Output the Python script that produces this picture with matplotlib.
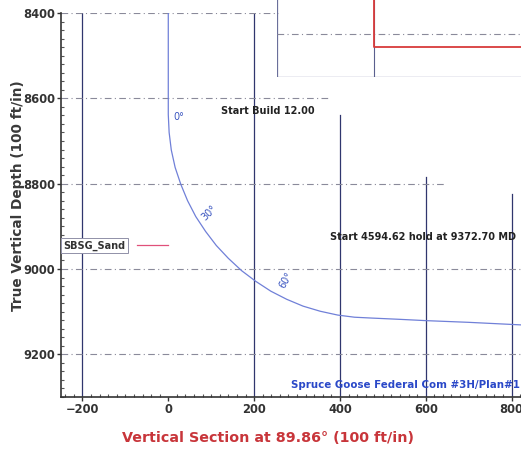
import numpy as np
import matplotlib
matplotlib.use("Agg")
import matplotlib.pyplot as plt
from matplotlib.ticker import MultipleLocator

# well path (vertical section ft, TVD ft)
vs = [0, 0, 2, 7, 16, 29, 45, 64, 87, 112, 140, 171, 204, 239, 276,
      314, 354, 395, 434, 474, 540, 600, 700, 822]
tvd = [8400, 8638, 8680, 8721, 8762, 8801, 8840, 8877, 8912, 8945, 8975,
       9004, 9029, 9052, 9071, 9087, 9099, 9108, 9113, 9115, 9118, 9121,
       9125, 9131]

# inclination labels
inc_text = ["0°", "30°", "60°"]
inc_vs = [25, 95, 275]
inc_tvd = [8644, 8868, 9025]
inc_rot = [0, 45, 60]

# formation top
form_name = "SBSG_Sand"
form_vs = [-72, 0]
form_tvd = [8943, 8943]

# grid: vertical lines (x, top tvd), horizontal lines (tvd, right vs)
vgrid_x = [-200, 200, 400, 600, 800]
vgrid_top = [8400, 8400, 8640, 8785, 8825]
hgrid_y = [8400, 8600, 8800, 9000, 9200]
hgrid_right = [255, 378, 645, 822, 822]

xticks = [-200, 0, 200, 400, 600, 800]
yticks = [8400, 8600, 8800, 9000, 9200]

# inset (plan view corner) in its own units
inset_vx = [0, 97, 299, 399, 501]
inset_hy = [34]
inset_red_x = [97, 97, 600]
inset_red_y = [-10, 47, 47]

fig = plt.figure(figsize=(5.21, 4.51), dpi=100)
ax = fig.add_axes([61/521, 54/451, 460/521, 384/451])

navy = "#30366e"
for x, top in zip(vgrid_x, vgrid_top):
    ax.plot([x, x], [top, 9300], color=navy, lw=0.9, zorder=1)
for y, right in zip(hgrid_y, hgrid_right):
    ax.plot([-250, right], [y, y], color="#8a8a9a", lw=0.8,
            dashes=(6, 3, 1, 3), zorder=1)

ax.plot(vs, tvd, color="#7080d8", lw=0.9, zorder=3)
for t, x, y, r in zip(inc_text, inc_vs, inc_tvd, inc_rot):
    ax.text(x, y, t, color="#3a55c0", fontsize=7, rotation=r,
            ha="center", va="center")

ax.plot(form_vs, form_tvd, color="#e0507a", lw=0.9, zorder=3)
ax.text(-244, form_tvd[0] + 2, form_name, fontsize=7, fontweight="bold",
        color="#333333", ha="left", va="center",
        bbox=dict(boxstyle="square,pad=0.25", fc="white", ec="#9090a8", lw=0.7))

ax.text(232, 8629, "Start Build 12.00", fontsize=7, fontweight="bold",
        color="#222222", ha="center", va="center")
ax.text(594, 8926, "Start 4594.62 hold at 9372.70 MD", fontsize=7,
        fontweight="bold", color="#222222", ha="center", va="center")
ax.text(819, 9272, "Spruce Goose Federal Com #3H/Plan#1", fontsize=7.4,
        fontweight="bold", color="#2a48c8", ha="right", va="center")

ax.set_xlim(-250, 822)
ax.set_ylim(9300, 8400)
ax.set_xticks(xticks)
ax.set_yticks(yticks)
ax.xaxis.set_minor_locator(MultipleLocator(20))
ax.yaxis.set_minor_locator(MultipleLocator(20))
ax.tick_params(which="major", direction="out", length=3, width=1, pad=1,
               color="#333333", labelsize=8.3, labelcolor="#333333")
ax.tick_params(which="minor", direction="in", length=2, width=0.8,
               color="#555555")
for lab in ax.get_xticklabels() + ax.get_yticklabels():
    lab.set_fontweight("bold")
for s in ["top", "right"]:
    ax.spines[s].set_visible(False)
for s in ["left", "bottom"]:
    ax.spines[s].set_color("#333333")
    ax.spines[s].set_linewidth(1.2)

ax.set_xlabel("Vertical Section at 89.86° (100 ft/in)", fontsize=10.3,
              fontweight="bold", color="#c8353a")
ax.set_ylabel("True Vertical Depth (100 ft/in)", fontsize=9.8,
              fontweight="bold", color="#3a3a3a")
ax.xaxis.set_label_coords(0.45, -0.088)
ax.yaxis.set_label_coords(-0.078, 0.523)

# inset plan view in the upper right corner
ins = fig.add_axes([277/521, (451-77)/451, 260/521, 90/451])
ins.set_xlim(0, 260)
ins.set_ylim(77, -13)
ins.axis("off")
ins.plot([0, 0], [-13, 77], color="#6a6f9a", lw=0.9)
ins.plot([0, 260], [77, 77], color="#6a6f9a", lw=0.9)
for x in inset_vx[1:]:
    ins.plot([x, x], [-13, 77], color="#5a5f8e", lw=0.8)
for y in inset_hy:
    ins.plot([0, 260], [y, y], color="#8a8a9a", lw=0.8, dashes=(6, 3, 1, 3))
ins.plot(inset_red_x, inset_red_y, color="#d83a3a", lw=1.3)

fig.savefig("out.png", dpi=100)
